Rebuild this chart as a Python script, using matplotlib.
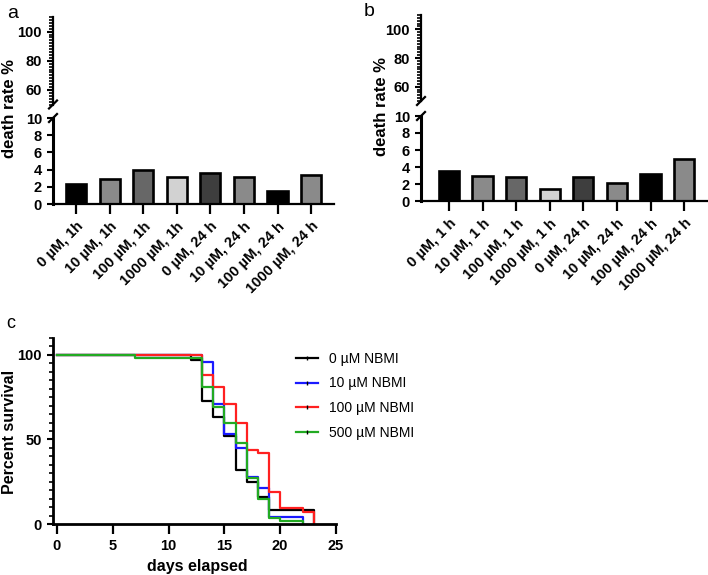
import numpy as np
import matplotlib
matplotlib.use("Agg")
import matplotlib.pyplot as plt
from matplotlib.ticker import MultipleLocator, FixedLocator
from matplotlib.lines import Line2D

plt.rcParams['font.family'] = ['Liberation Sans', 'DejaVu Sans']

# ---- data ----
labels_a = ["0 µM, 1h", "10 µM, 1h", "100 µM, 1h", "1000 µM, 1h",
            "0 µM, 24 h", "10 µM, 24 h", "100 µM, 24 h", "1000 µM, 24 h"]
labels_b = ["0 µM, 1 h", "10 µM, 1 h", "100 µM, 1 h", "1000 µM, 1 h",
            "0 µM, 24 h", "10 µM, 24 h", "100 µM, 24 h", "1000 µM, 24 h"]
death_a = [2.3, 2.9, 4.0, 3.1, 3.65, 3.1, 1.5, 3.35]
death_b = [3.55, 3.0, 2.85, 1.4, 2.85, 2.15, 3.2, 4.95]
bar_colors = ["#000000", "#8a8a8a", "#676767", "#d2d2d2",
              "#3e3e3e", "#8a8a8a", "#000000", "#8a8a8a"]

group_names = ["0 µM NBMI", "10 µM NBMI", "100 µM NBMI", "500 µM NBMI"]
group_colors = ["#000000", "#1a1aff", "#ff2020", "#22aa22"]
days = [
    [0, 12, 13, 14, 15, 16, 17, 18, 19, 23],
    [0, 13, 14, 15, 16, 17, 18, 19, 22],
    [0, 13, 14, 15, 16, 17, 18, 19, 20, 22, 23],
    [0, 7, 13, 14, 15, 16, 17, 18, 19, 20, 22],
]
survival = [
    [100, 97, 73, 63, 52, 32, 25, 16, 8, 0],
    [100, 96, 71, 53, 45, 28, 21, 4.3, 0],
    [100, 88, 81, 71, 60, 44, 42, 19, 9.3, 7, 0],
    [100, 98, 81, 69, 60, 48, 27, 15, 3.5, 1.5, 0],
]

W, H = 708, 575
fig = plt.figure(figsize=(W / 100, H / 100), dpi=100)

def fx(px):
    return px / W

def fy(py):
    return 1 - py / H

def style_ax(ax):
    for s in ['top', 'right']:
        ax.spines[s].set_visible(False)
    for s in ['left', 'bottom']:
        ax.spines[s].set_linewidth(1.6)
    ax.tick_params(which='major', width=1.5, length=4.5, labelsize=10.5)
    ax.tick_params(axis='y', which='minor', left=True, width=1.2, length=3)
    for t in ax.get_yticklabels() + ax.get_xticklabels():
        t.set_fontweight('bold')

def broken_bar(left, right, up_top, up_bot, lo_top, lo_bot, xmin, values, labels, ylab_x, ylab_y):
    ax_up = fig.add_axes([fx(left), fy(up_bot), fx(right - left), (up_bot - up_top) / H])
    ax_lo = fig.add_axes([fx(left), fy(lo_bot), fx(right - left), (lo_bot - lo_top) / H])
    x = np.arange(len(values))
    ax_lo.bar(x, values, width=0.6, color=bar_colors, edgecolor='black', linewidth=1.9)
    ax_lo.set_xlim(xmin, len(values) - 0.32)
    ax_up.set_xlim(xmin, len(values) - 0.32)
    ax_lo.set_ylim(0, 10)
    ax_up.set_ylim(50, 110)
    ax_lo.yaxis.set_major_locator(MultipleLocator(2))
    ax_up.yaxis.set_major_locator(FixedLocator([60, 80, 100]))
    ax_up.yaxis.set_minor_locator(MultipleLocator(2))
    ax_lo.set_xticks(x)
    ax_lo.set_xticklabels(labels, rotation=45, ha='right', va='top',
                          rotation_mode='anchor', fontsize=10.5, fontweight='bold')
    ax_up.set_xticks([])
    ax_up.spines['bottom'].set_visible(False)
    style_ax(ax_lo)
    style_ax(ax_up)
    ax_lo.tick_params(axis='x', length=7, width=1.6, pad=4)
    ax_lo.spines['left'].set_linewidth(2.2)
    ax_up.spines['left'].set_linewidth(1.6)
    for ax in (ax_up, ax_lo):
        for t in ax.get_yticklabels():
            t.set_fontweight('bold')
    # break marks
    kw = dict(color='black', lw=1.6, clip_on=False)
    bx = fx(left)
    fig.add_artist(Line2D([bx - 4 / W, bx + 4 / W], [fy(up_bot + 4), fy(up_bot - 4)], **kw))
    fig.add_artist(Line2D([bx - 4 / W, bx + 4 / W], [fy(lo_top + 4), fy(lo_top - 4)], **kw))
    fig.text(fx(ylab_x), fy(ylab_y), "death rate %", rotation=90, ha='center', va='center',
             fontsize=12, fontweight='bold')

broken_bar(53, 334, 17, 104.5, 118, 204, -0.685, death_a, labels_a, 10, 108)
broken_bar(421, 707, 15, 101, 116, 201, -0.83, death_b, labels_b, 382, 107)

fig.text(fx(7), fy(14), "a", fontsize=14, va='center')
fig.text(fx(364), fy(12), "b", fontsize=14, va='center')
fig.text(fx(6), fy(324), "c", fontsize=13, va='center')

# ---- panel c: survival ----
axc = fig.add_axes([fx(53), fy(524), fx(336 - 53), (524 - 338) / H])
for t, s, c, n in zip(days, survival, group_colors, group_names):
    axc.plot(t, s, drawstyle='steps-post', color=c, lw=1.6, label=n)
axc.set_xlim(-0.35, 25)
axc.set_ylim(0, 110)
axc.set_xticks([0, 5, 10, 15, 20, 25])
axc.set_yticks([0, 50, 100])
axc.yaxis.set_minor_locator(MultipleLocator(5))
style_ax(axc)
axc.tick_params(axis='x', length=7, width=1.6)
axc.spines['left'].set_linewidth(2.0)
axc.spines['bottom'].set_linewidth(2.0)

handles = [Line2D([0], [0], color=c, lw=1.6, marker='|', markersize=3,
                  markeredgecolor='black', markeredgewidth=1.0)
           for c in group_colors]
fig.legend(handles, group_names, loc='upper left', bbox_to_anchor=(fx(290), fy(346)),
           frameon=False, fontsize=10, handlelength=1.6, handletextpad=0.8,
           labelspacing=0.78, borderaxespad=0)

fig.text(fx(10), fy(432), "Percent survival", rotation=90, ha='center', va='center',
         fontsize=11.5, fontweight='bold')
fig.text(fx(197), fy(566), "days elapsed", ha='center', va='center',
         fontsize=11.5, fontweight='bold')

fig.savefig("out.png", dpi=100)
